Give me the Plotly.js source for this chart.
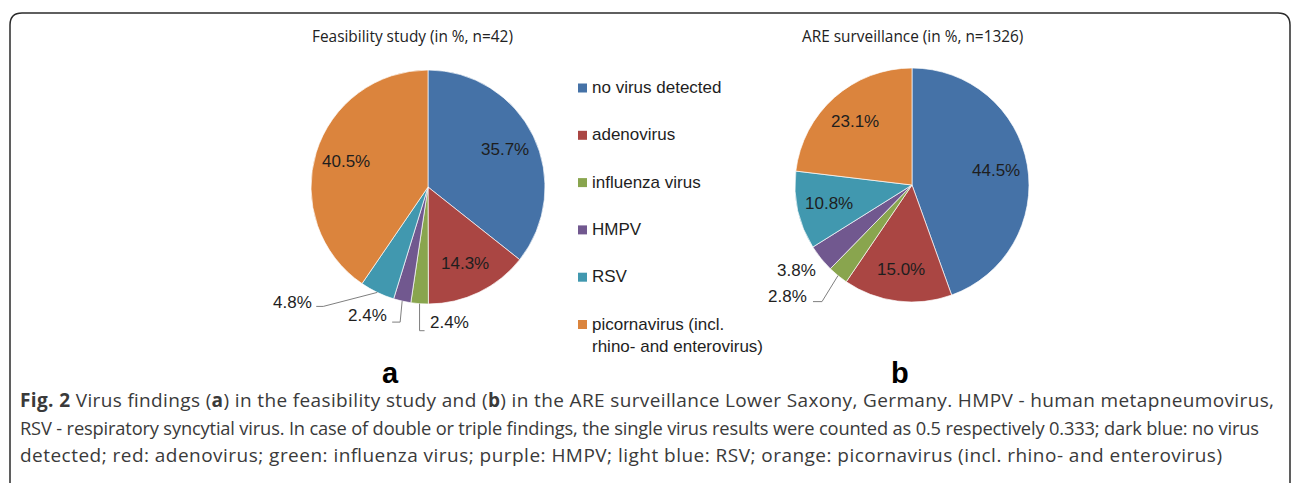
<!DOCTYPE html>
<html>
<head>
<meta charset="utf-8">
<script src="https://cdn.plot.ly/plotly-3.0.1.min.js"></script>
<style>
  html, body { margin: 0; padding: 0; background: #ffffff; }
  #chart { width: 1292px; height: 483px; }
</style>
</head>
<body>
<div id="chart"></div>
<script>
// ---------------- data ----------------
const categories = ['no virus detected', 'adenovirus', 'influenza virus', 'HMPV', 'RSV',
                    'picornavirus (incl. rhino- and enterovirus)'];
const feasibilityValues = [35.7, 14.3, 2.4, 2.4, 4.8, 40.5];   // % , n=42
const surveillanceValues = [44.5, 15.0, 2.8, 3.8, 10.8, 23.1]; // % , n=1326
const sliceColors = ['#4572A7', '#AA4643', '#89A54E', '#71588F', '#4198AF', '#DB843D'];
const chartTitles = ['Feasibility study (in %, n=42)', 'ARE surveillance (in %, n=1326)'];
const panelLetters = ['a', 'b'];
const captionLines = [
  '<b>Fig. 2</b> Virus findings (<b>a</b>) in the feasibility study and (<b>b</b>) in the ARE surveillance Lower Saxony, Germany. HMPV - human metapneumovirus,',
  'RSV - respiratory syncytial virus. In case of double or triple findings, the single virus results were counted as 0.5 respectively 0.333; dark blue: no virus',
  'detected; red: adenovirus; green: influenza virus; purple: HMPV; light blue: RSV; orange: picornavirus (incl. rhino- and enterovirus)'
];

// ---------------- layout helpers ----------------
const W = 1292, H = 483;
const px = x => x / W;
const py = y => 1 - y / H;

// pie geometry (pixels)
const pies = [
  { cx: 428, cy: 187, r: 117, values: feasibilityValues, titleX: 412, letterX: 390,
    place: [
      { mode: 'in' }, { mode: 'in' },
      { mode: 'lead', pts: [[0, 27], [5, 27]], lx: 8, ly: 19, xa: 'left' },
      { mode: 'lead', pts: [[-2, 21], [-10, 21]], lx: -13, ly: 14, xa: 'right' },
      { mode: 'lead', pts: [[-54, 14], [-61, 14]], lx: -63, ly: 10, xa: 'right' },
      { mode: 'in' }
    ] },
  { cx: 912, cy: 185, r: 117, values: surveillanceValues, titleX: 912, letterX: 900,
    place: [
      { mode: 'in' }, { mode: 'in' },
      { mode: 'lead', pts: [[-16, 26], [-25, 26]], lx: -29, ly: 21, xa: 'right' },
      { mode: 'lead', pts: [], lx: -24, ly: 12, xa: 'center' },
      { mode: 'in' }, { mode: 'in' }
    ] }
];

const traces = [];
const annotations = [];
const shapes = [];
const labelFont = { family: 'Liberation Sans, Arial, sans-serif', size: 17, color: '#1e1e1e' };

pies.forEach((p, k) => {
  traces.push({
    type: 'pie',
    labels: categories,
    values: p.values,
    sort: false,
    direction: 'clockwise',
    rotation: 0,
    textinfo: 'none',
    hoverinfo: 'label+value',
    showlegend: false,
    marker: { colors: sliceColors, line: { color: 'rgba(255,255,255,0.85)', width: 0.8 } },
    domain: { x: [px(p.cx - p.r), px(p.cx + p.r)], y: [py(p.cy + p.r), py(p.cy - p.r)] }
  });

  const total = p.values.reduce((a, b) => a + b, 0);
  let cum = 0;
  p.values.forEach((v, i) => {
    const a0 = cum / total * 2 * Math.PI;
    cum += v;
    const a1 = cum / total * 2 * Math.PI;
    const am = (a0 + a1) / 2;
    const s = Math.sin(am), c = Math.cos(am);
    const txt = v.toFixed(1) + '%';
    const pl = p.place[i];
    if (pl.mode === 'in') {
      const f = 0.73;
      annotations.push({
        xref: 'paper', yref: 'paper', x: px(p.cx + f * p.r * s), y: py(p.cy - f * p.r * c),
        xanchor: 'center', yanchor: 'middle', showarrow: false, text: txt, font: labelFont
      });
    } else {
      const rx = p.cx + p.r * s, ry = p.cy - p.r * c;
      if (pl.pts.length) {
        let d = 'M' + px(rx) + ',' + py(ry);
        pl.pts.forEach(q => { d += ' L' + px(rx + q[0]) + ',' + py(ry + q[1]); });
        shapes.push({ type: 'path', xref: 'paper', yref: 'paper', path: d,
                      line: { color: '#7f7f7f', width: 1 } });
      }
      annotations.push({
        xref: 'paper', yref: 'paper', x: px(rx + pl.lx), y: py(ry + pl.ly),
        xanchor: pl.xa, yanchor: 'middle', showarrow: false, text: txt, font: labelFont
      });
    }
  });

  // chart title
  annotations.push({
    xref: 'paper', yref: 'paper', x: px(p.titleX), y: py(37), xanchor: 'center', yanchor: 'middle',
    showarrow: false, text: chartTitles[k],
    font: { family: 'Open Sans, sans-serif', size: 15.4, color: '#222222' }
  });
  // panel letter
  annotations.push({
    xref: 'paper', yref: 'paper', x: px(p.letterX), y: py(373), xanchor: 'center', yanchor: 'middle',
    showarrow: false, text: '<b>' + panelLetters[k] + '</b>',
    font: { family: 'Liberation Sans, Arial, sans-serif', size: 29, color: '#000000' }
  });
});

// legend (shared)
const legX = 578, legY0 = 88, legPitch = 47.3;
categories.forEach((cat, i) => {
  const yc = legY0 + i * legPitch;
  shapes.push({ type: 'rect', xref: 'paper', yref: 'paper',
    x0: px(legX), x1: px(legX + 9), y0: py(yc + 4.5), y1: py(yc - 4.5),
    fillcolor: sliceColors[i], line: { width: 0 } });
  annotations.push({
    xref: 'paper', yref: 'paper', x: px(legX + 12), y: py(yc - 12), xanchor: 'left', yanchor: 'top',
    align: 'left', showarrow: false, text: cat.replace('(incl. ', '(incl.<br>'),
    font: { family: 'Liberation Sans, Arial, sans-serif', size: 17, color: '#1e1e1e' }
  });
});

// caption (justified to the reference line widths after drawing)
const capY = [400, 427, 455];
const capSize = [19, 18.3, 19];
const capWidth = [1254, 1239, 1202];
const capIdx = [];
captionLines.forEach((t, i) => {
  capIdx.push(annotations.length);
  annotations.push({
    xref: 'paper', yref: 'paper', x: px(18), y: py(capY[i]), xanchor: 'left', yanchor: 'middle',
    align: 'left', showarrow: false, text: t,
    font: { family: 'Open Sans, sans-serif', size: capSize[i], color: '#3a3a3a' }
  });
});

// rounded frame
const fr = { l: 10, t: 13, r: 1290, b: 500, rad: 12 };
shapes.push({
  type: 'path', xref: 'paper', yref: 'paper', layer: 'below',
  path: 'M' + px(fr.l) + ',' + py(fr.b) +
        ' L' + px(fr.l) + ',' + py(fr.t + fr.rad) +
        ' Q' + px(fr.l) + ',' + py(fr.t) + ' ' + px(fr.l + fr.rad) + ',' + py(fr.t) +
        ' L' + px(fr.r - fr.rad) + ',' + py(fr.t) +
        ' Q' + px(fr.r) + ',' + py(fr.t) + ' ' + px(fr.r) + ',' + py(fr.t + fr.rad) +
        ' L' + px(fr.r) + ',' + py(fr.b),
  line: { color: '#2b2b2b', width: 1.5 }
});

const layout = {
  width: W, height: H,
  margin: { l: 0, r: 0, t: 0, b: 0 },
  paper_bgcolor: '#ffffff', plot_bgcolor: '#ffffff',
  showlegend: false,
  annotations: annotations,
  shapes: shapes
};

Plotly.newPlot('chart', traces, layout, { displayModeBar: false, staticPlot: true }).then(gd => {
  capIdx.forEach((idx, i) => {
    const t = gd.querySelector('.annotation[data-index="' + idx + '"] text.annotation-text');
    if (!t) return;
    t.setAttribute('textLength', capWidth[i]);
    t.setAttribute('lengthAdjust', 'spacing');
  });
});
</script>
</body>
</html>
